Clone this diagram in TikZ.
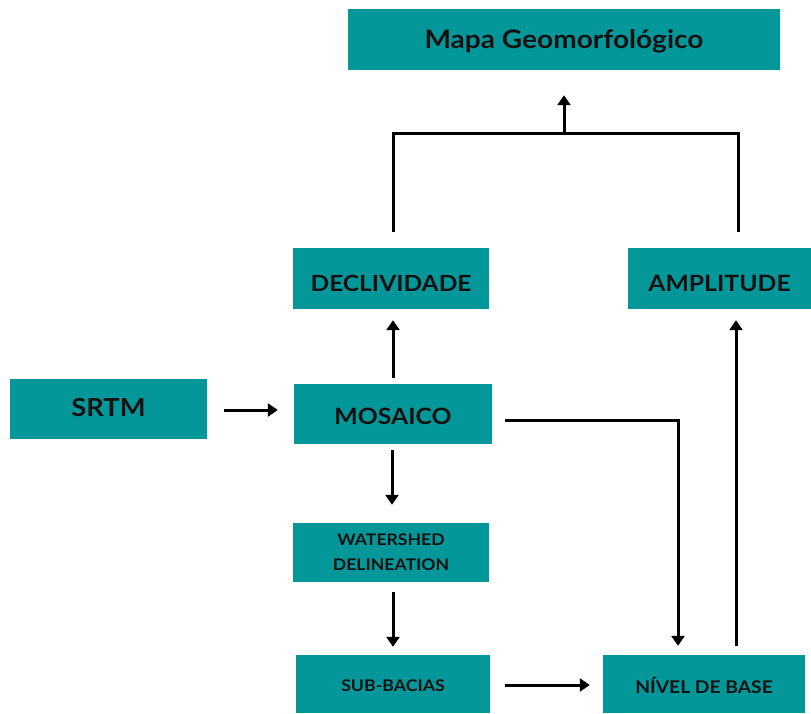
\documentclass[tikz,border=0pt]{standalone}
\usepackage{fontspec}
\setmainfont{Lato}[FakeStretch=1.1]
\usetikzlibrary{arrows.meta}
\definecolor{teal1}{RGB}{4,151,154}
\definecolor{ink}{RGB}{17,17,17}
\newcommand{\dn}[2]{\raisebox{-#1pt}[\height][\depth]{#2}}
\tikzset{
  box/.style={fill=teal1, draw=none, inner sep=0pt, text=ink, align=center, font=\bfseries},
  conn/.style={draw=black, line width=3pt},
  arr/.style={conn, -{Triangle[width=13pt,length=10pt]}},
}
\begin{document}
\begin{tikzpicture}[x=1pt,y=-1pt]
\useasboundingbox (0,0) rectangle (811,713);
\node[box, minimum width=432pt, minimum height=61pt, font=\bfseries\fontsize{25.5}{30}\selectfont] (mapa) at (564,39.5) {\dn{2}{Mapa Geomorfológico}};
\node[box, minimum width=196pt, minimum height=61pt, font=\bfseries\fontsize{22.3}{26}\selectfont] (decl) at (391,278.5) {\dn{4.5}{DECLIVIDADE}};
\node[box, minimum width=183pt, minimum height=61pt, font=\bfseries\fontsize{22.5}{26}\selectfont] (ampl) at (719.5,278.5) {\dn{4.5}{AMPLITUDE}};
\node[box, minimum width=197pt, minimum height=60pt, font=\bfseries\fontsize{24.8}{29}\selectfont] (srtm) at (108.5,409) {\dn{-1.5}{SRTM}};
\node[box, minimum width=198pt, minimum height=60pt, font=\bfseries\fontsize{22.5}{27}\selectfont] (mosaico) at (393,414) {\dn{2.5}{MOSAICO}};
\node[box, minimum width=196pt, minimum height=59pt, font=\bfseries\fontsize{16}{25}\selectfont] (water) at (391,552.5) {WATERSHED\\DELINEATION};
\node[box, minimum width=194pt, minimum height=58pt, font=\bfseries\fontsize{16.1}{20}\selectfont] (sub) at (393,684) {\dn{1.5}{SUB-BACIAS}};
\node[box, minimum width=202pt, minimum height=58pt, font=\bfseries\fontsize{17.5}{21}\selectfont] (nivel) at (704,684) {\dn{1.5}{NÍVEL DE BASE}};

% connectors
\draw[arr] ([xshift=17pt,yshift=-1pt]srtm.east) -- ([xshift=-16pt,yshift=4pt]mosaico.west);
\draw[arr] ([yshift=6pt]mosaico.north) -- ([xshift=2pt,yshift=-11pt]decl.south);
\draw[arr] ([xshift=-1pt,yshift=-6pt]mosaico.south) -- ([xshift=1pt,yshift=18pt]water.north);
\draw[arr] ([xshift=2pt,yshift=-10pt]water.south) -- ([yshift=8pt]sub.north);
\draw[arr] ([xshift=15pt,yshift=-1pt]sub.east) -- ([xshift=-13pt,yshift=-1pt]nivel.west);

\coordinate (mnA) at (505,420);
\coordinate (mnB) at (678,420);
\coordinate (nivTop) at ([yshift=9pt]nivel.north);
\draw[arr] (mnA) -- (mnB) -- (mnB |- nivTop);
\draw[arr] ([xshift=32pt,yshift=9pt]nivel.north) -- ([xshift=16.5pt,yshift=-11pt]ampl.south);

\coordinate (jl) at (393,133);
\coordinate (jr) at (738,133);
\coordinate (jm) at (564,133);
\draw[conn, line join=miter] ([xshift=2pt,yshift=16pt]decl.north) -- (jl) -- (jr) -- ([xshift=18.5pt,yshift=16pt]ampl.north);
\draw[arr] ([yshift=1.5pt]jm) -- ([yshift=-25pt]mapa.south);
\end{tikzpicture}
\end{document}
